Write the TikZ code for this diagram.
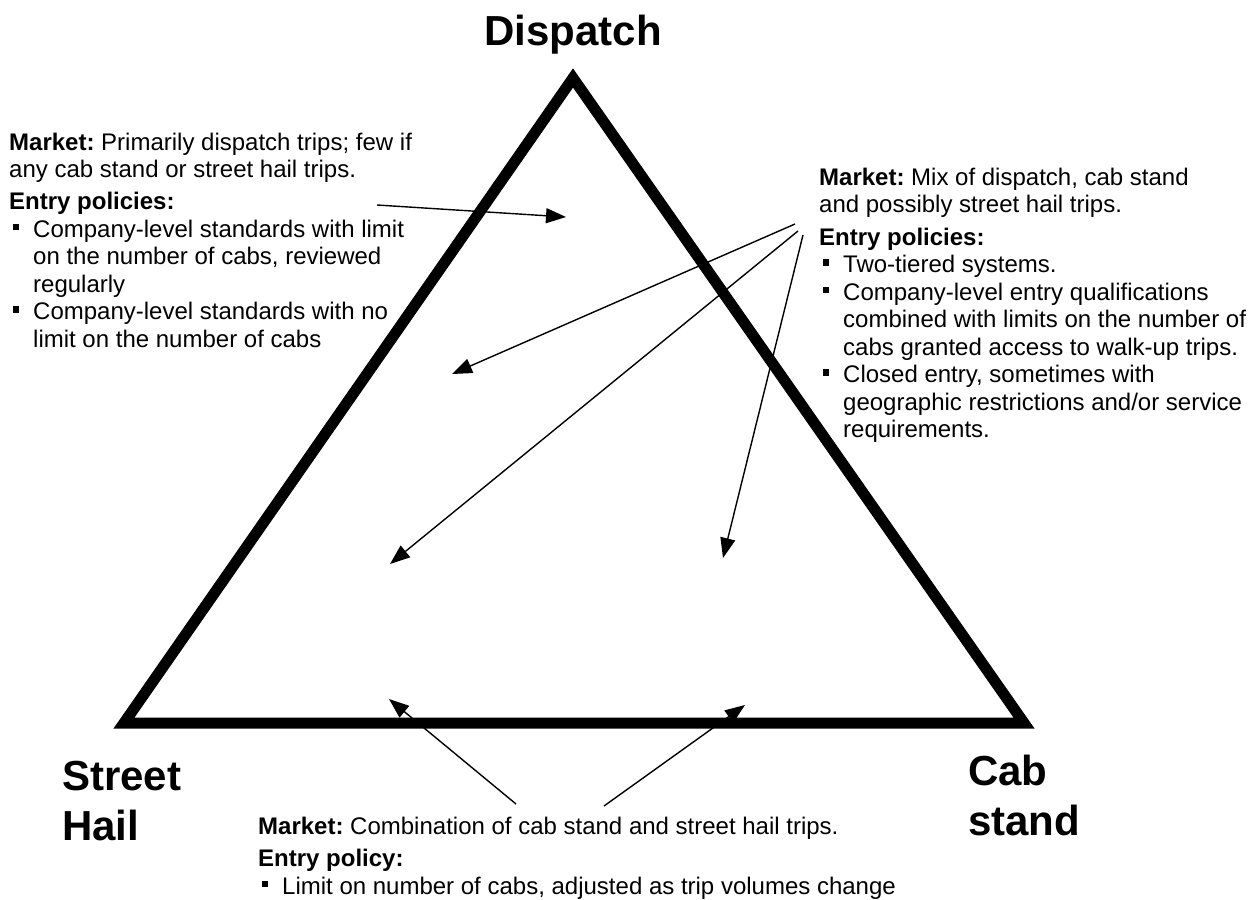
\documentclass[tikz,border=0pt]{standalone}
\usepackage{fontspec}
\setmainfont{Liberation Sans}
\usetikzlibrary{arrows.meta}
\newcommand{\bulx}{\makebox[24pt][l]{\hspace{3.5pt}\raisebox{7pt}{\rule{6.5pt}{6.5pt}}}}
\newcommand{\indx}{\hspace*{24pt}}
\frenchspacing
\begin{document}
\begin{tikzpicture}[x=1pt,y=-1pt,
  blk/.style={anchor=base west, inner sep=0pt, font=\fontsize{24}{27.5}\selectfont},
  ttl/.style={inner sep=0pt, font=\fontsize{42}{50}\selectfont\bfseries},
  tri/.style={line width=11pt, line join=miter},
  arr/.style={line width=1.4pt, -{Triangle[length=20pt,width=15pt]}}]
\useasboundingbox (0,0) rectangle (1254,900);
% triangle
\coordinate (A) at (573,78);
\coordinate (B) at (124,723);
\coordinate (C) at (1024,723);
\draw[tri] (A) -- (B) -- (C) -- cycle;
% titles
\node[ttl, anchor=base] (disp) at (573,45) {Dispatch};
\node[ttl, anchor=base west] (street) at (62,790) {\begin{tabular}[t]{@{}l@{}}Street\\Hail\end{tabular}};
\node[ttl, anchor=base west] (cab) at (968,785) {\begin{tabular}[t]{@{}l@{}}Cab\\stand\end{tabular}};
% text blocks
\node[blk] (L) at (9,150) {\begin{tabular}[t]{@{}l@{}}
\textbf{Market:} Primarily dispatch trips; few if\\
any cab stand or street hail trips.\\[4.5pt]
\textbf{Entry policies:}\\
\bulx Company-level standards with limit\\
\indx on the number of cabs, reviewed\\
\indx regularly\\
\bulx Company-level standards with no\\
\indx limit on the number of cabs
\end{tabular}};
\node[blk] (R) at (819,185) {\begin{tabular}[t]{@{}l@{}}
\textbf{Market:} Mix of dispatch, cab stand\\
and possibly street hail trips.\\[5pt]
\textbf{Entry policies:}\\
\bulx Two-tiered systems.\\
\bulx Company-level entry qualifications\\
\indx combined with limits on the number of\\
\indx cabs granted access to walk-up trips.\\
\bulx Closed entry, sometimes with\\
\indx geographic restrictions and/or service\\
\indx requirements.
\end{tabular}};
\node[blk] (Bt) at (258,834) {\begin{tabular}[t]{@{}l@{}}
\textbf{Market:} Combination of cab stand and street hail trips.\\[5pt]
\textbf{Entry policy:}\\
\bulx Limit on number of cabs, adjusted as trip volumes change
\end{tabular}};
% arrow coordinates
\coordinate (s1) at (377,205);
\coordinate (t1) at (566,217);
\coordinate (s2) at (795,224);
\coordinate (t2) at (452,374);
\coordinate (s3) at (798,231);
\coordinate (t3) at (390,564);
\coordinate (s4) at (803,235);
\coordinate (t4) at (723,558);
\coordinate (s5) at (516,804);
\coordinate (t5) at (389,699);
\coordinate (s6) at (604,806);
\coordinate (t6) at (745,705);
\draw[arr] (s1) -- (t1);
\draw[arr] (s2) -- (t2);
\draw[arr] (s3) -- (t3);
\draw[arr] (s4) -- (t4);
\draw[arr] (s5) -- (t5);
\draw[arr] (s6) -- (t6);
\end{tikzpicture}
\end{document}
